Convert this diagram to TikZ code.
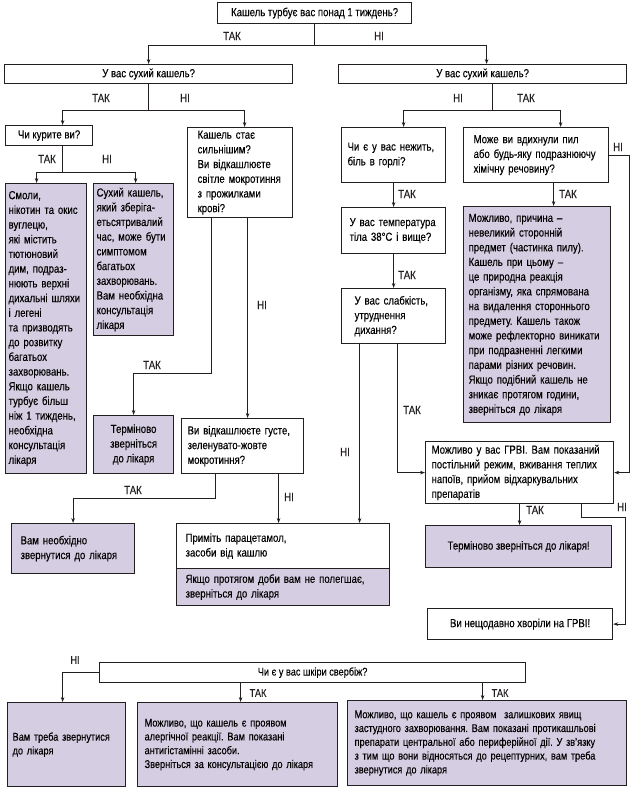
\documentclass[tikz,border=0pt]{standalone}
\usepackage{fontspec}
\setmainfont{Liberation Sans}[FakeStretch=0.82, FakeBold=0.15]
\usetikzlibrary{arrows.meta}
\definecolor{lilac}{RGB}{213,205,225}
\definecolor{ink}{RGB}{35,31,32}
\frenchspacing

\begin{document}
\begin{tikzpicture}[
    x=1pt, y=-1pt,
    >={Stealth[length=5pt,width=3.6pt]},
    every node/.style={font=\fontsize{11.7}{14.7}\selectfont},
    box/.style={draw=ink, line width=1.2pt, anchor=north west, align=left, inner ysep=1pt},
    cbox/.style={box, align=center},
    note/.style={box, fill=lilac},
    cnote/.style={note, align=center},
    small/.style={font=\fontsize{11.2}{13.8}\selectfont},
    lbl/.style={inner sep=0pt, text=ink},
    link/.style={->, draw=ink, line width=0.8pt},
  ]
  \useasboundingbox (0,0) rectangle (630,791);

  \node[cbox, minimum width=194pt, minimum height=21pt] (q0) at (217,2) {Кашель турбує вас понад 1 тиждень?};
  \node[cbox, minimum width=288pt, minimum height=19pt] (dryL) at (4,64) {У вас сухий кашель?};
  \node[cbox, minimum width=288pt, minimum height=19pt] (dryR) at (338,64) {У вас сухий кашель?};

  \node[cbox, minimum width=87pt, minimum height=20pt] (smk) at (5,125) {Чи курите ви?};
  \node[box, text width=85pt, inner xsep=10pt, minimum height=90pt] (worse) at (187,127)
    {Кашель стає\\ сильнішим?\\ Ви відкашлюєте\\ світле мокротиння\\ з прожилками\\ крові?};
  \node[note, text width=75pt, inner xsep=3pt, minimum height=290pt] (tar) at (5,183)
    {Смоли,\\ нікотин та окис\\ вуглецю,\\ які містить\\ тютюновий\\ дим, подраз-\\ нюють верхні\\ дихальні шляхи\\ і легені\\ та призводять\\ до розвитку\\ багатьох\\ захворювань.\\ Якщо кашель\\ турбує більш\\ ніж 1 тиждень,\\ необхідна\\ консультація\\ лікаря};
  \node[note, text width=74pt, inner xsep=3pt, minimum height=152pt] (dry) at (93,183)
    {Сухий кашель,\\ який зберіга-\\ етьсятривалий\\ час, може бути\\ симптомом\\ багатьох\\ захворювань.\\ Вам необхідна\\ консультація\\ лікаря};
  \node[cnote, minimum width=80pt, minimum height=58pt] (urgent) at (93,415)
    {Терміново\\ зверніться\\ до лікаря};
  \node[box, text width=110pt, inner xsep=6pt, minimum height=55pt] (thick) at (181,418)
    {Ви відкашлюєте густе,\\ зеленувато-жовте\\ мокротиння?};
  \node[note, text width=105pt, inner xsep=9pt, minimum height=50pt] (docA) at (11,523)
    {Вам необхідно\\ звернутися до лікаря};
  \node[box, text width=195pt, inner xsep=9pt, minimum height=45pt] (para) at (176,523)
    {Приміть парацетамол,\\ засоби від кашлю};
  \node[note, text width=195pt, inner xsep=9pt, minimum height=37pt] (paraNote) at (176,568)
    {Якщо протягом доби вам не полегшає,\\ зверніться до лікаря};

  \node[box, text width=92pt, inner xsep=6pt, minimum height=55pt] (cold) at (341,127)
    {Чи є у вас нежить,\\ біль в горлі?};
  \node[box, text width=88pt, inner xsep=8pt, minimum height=46pt] (temp) at (341,207)
    {У вас температура\\ тіла 38°C і вище?};
  \node[box, text width=78pt, inner xsep=13pt, minimum height=55pt] (weak) at (341,288)
    {У вас слабкість,\\ утруднення\\ дихання?};
  \node[box, text width=125pt, inner xsep=10pt, minimum height=55pt] (dust) at (463,127)
    {Може ви вдихнули пил\\ або будь-яку подразнюючу\\ хімічну речовину?};
  \node[note, text width=137pt, inner xsep=5pt, minimum height=216pt] (dustBox) at (463,206)
    {Можливо, причина –\\ невеликий сторонній\\ предмет (частинка пилу).\\ Кашель при цьому –\\ це природна реакція\\ організму, яка спрямована\\ на видалення стороннього\\ предмету. Кашель також\\ може рефлекторно виникати\\ при подразненні легкими\\ парами різних речовин.\\ Якщо подібний кашель не\\ зникає протягом години,\\ зверніться до лікаря};
  \node[box, text width=176pt, inner xsep=6pt, minimum height=62pt] (flu) at (425,441)
    {Можливо у вас ГРВІ. Вам показаний\\ постільний режим, вживання теплих\\ напоїв, прийом відхаркувальних\\ препаратів};
  \node[cnote, minimum width=186pt, minimum height=42pt] (urgent2) at (425,525)
    {Терміново зверніться до лікаря!};
  \node[cbox, minimum width=185pt, minimum height=31pt] (recent) at (427,608)
    {Ви нещодавно хворіли на ГРВІ!};

  \node[cbox, small, minimum width=426pt, minimum height=20pt] (itch) at (99,662)
    {Чи є у вас шкіри свербіж?};
  \node[note, small, text width=108pt, inner xsep=5pt, minimum height=84pt] (docB) at (7,702)
    {Вам треба звернутися\\ до лікаря};
  \node[note, small, text width=186pt, inner xsep=7pt, minimum height=84pt] (allergy) at (137,702)
    {Можливо, що кашель є проявом\\ алергічної реакції. Вам показані\\ антигістамінні засоби.\\ Зверніться за консультацією до лікаря};
  \node[note, small, text width=265pt, inner xsep=7pt, minimum height=85pt] (resid) at (347,700)
    {Можливо, що кашель є проявом~ залишкових явищ\\ застудного захворювання. Вам показані протикашльові\\ препарати центральної або периферійної дії. У зв’язку\\ з тим що вони відносяться до рецептурних, вам треба\\ звернутися до лікаря};

  \draw[link] (q0.south) |- ([yshift=19pt]dryL.north) -- (dryL.north);
  \draw[link] (q0.south) |- ([xshift=4pt,yshift=19pt]dryR.north) -- ([xshift=4pt]dryR.north);
  \draw[link] (dryL.south) |- ([xshift=13.5pt,yshift=15pt]smk.north) -- ([xshift=13.5pt]smk.north);
  \draw[link] (dryL.south) |- ([xshift=4.5pt,yshift=17pt]worse.north) -- ([xshift=4.5pt]worse.north);
  \draw[link] ([xshift=10pt]dryR.south) |- ([xshift=10pt,yshift=17pt]cold.north) -- ([xshift=10pt]cold.north);
  \draw[link] ([xshift=10pt]dryR.south) |- ([xshift=24.5pt,yshift=17pt]dust.north) -- ([xshift=24.5pt]dust.north);
  \draw[link] ([xshift=13.5pt]smk.south) |- ([xshift=-9.5pt,yshift=11pt]tar.north) -- ([xshift=-9.5pt]tar.north);
  \draw[link] ([xshift=13.5pt]smk.south) |- ([xshift=2pt,yshift=11pt]dry.north) -- ([xshift=2pt]dry.north);
  \draw[link] ([xshift=-28.5pt]worse.south) |- ([yshift=42pt]urgent.north) -- (urgent.north);
  \draw[link] ([xshift=7.5pt]worse.south) -- ([xshift=7.5pt]worse.south |- thick.north);
  \draw[link] ([xshift=-27pt]thick.south) |- ([yshift=25pt]docA.north) -- (docA.north);
  \draw[link] ([xshift=36pt]thick.south) -- ([xshift=36pt]thick.south |- para.north);
  \draw[link] (cold) -- (temp);
  \draw[link] (temp) -- (weak);
  \draw[link] ([xshift=-34pt]weak.south) -- ([xshift=-34pt]weak.south |- para.north);
  \draw[link] ([xshift=4pt]weak.south) |- (flu.west);
  \draw[link] ([xshift=17.5pt]dust.south) -- ([xshift=17.5pt]dust.south |- dustBox.north);
  \draw[link] (dust.east) -- ++(20,0) |- (flu.east);
  \draw[link] (flu.south) -- (flu.south |- urgent2.north);
  \draw[link] ([xshift=62pt]flu.south) -- ++(0,13) -| ([xshift=12pt]recent.east) -- (recent.east);
  \draw[link] (itch.west) -| ([xshift=-4pt]docB.north);
  \draw[link] ([xshift=-72pt]itch.south) -- ([xshift=-72pt]itch.south |- allergy.north);
  \draw[link] ([xshift=170pt]itch.south) -- ([xshift=170pt]itch.south |- resid.north);

  \node[lbl] (y1) at (232,36) {ТАК};
  \node[lbl] (n1) at (379,36) {НІ};
  \node[lbl] (y2) at (101,98) {ТАК};
  \node[lbl] (n2) at (185,98) {НІ};
  \node[lbl] (n3) at (458,98) {НІ};
  \node[lbl] (y3) at (526,98) {ТАК};
  \node[lbl] (y4) at (47,159) {ТАК};
  \node[lbl] (n4) at (107,159) {НІ};
  \node[lbl] (n5) at (262,305) {НІ};
  \node[lbl] (y5) at (152,365) {ТАК};
  \node[lbl] (y6) at (133,490) {ТАК};
  \node[lbl] (n6) at (289,497) {НІ};
  \node[lbl] (y7) at (407,194) {ТАК};
  \node[lbl] (y8) at (407,275) {ТАК};
  \node[lbl] (y9) at (412,410) {ТАК};
  \node[lbl] (n7) at (345,452) {НІ};
  \node[lbl] (y10) at (568,194) {ТАК};
  \node[lbl] (n8) at (618,147) {НІ};
  \node[lbl] (y11) at (535,510) {ТАК};
  \node[lbl] (n9) at (622,507) {НІ};
  \node[lbl, small] (n10) at (75,660) {НІ};
  \node[lbl, small] (y12) at (258,693) {ТАК};
  \node[lbl, small] (y13) at (500,693) {ТАК};
\end{tikzpicture}
\end{document}
